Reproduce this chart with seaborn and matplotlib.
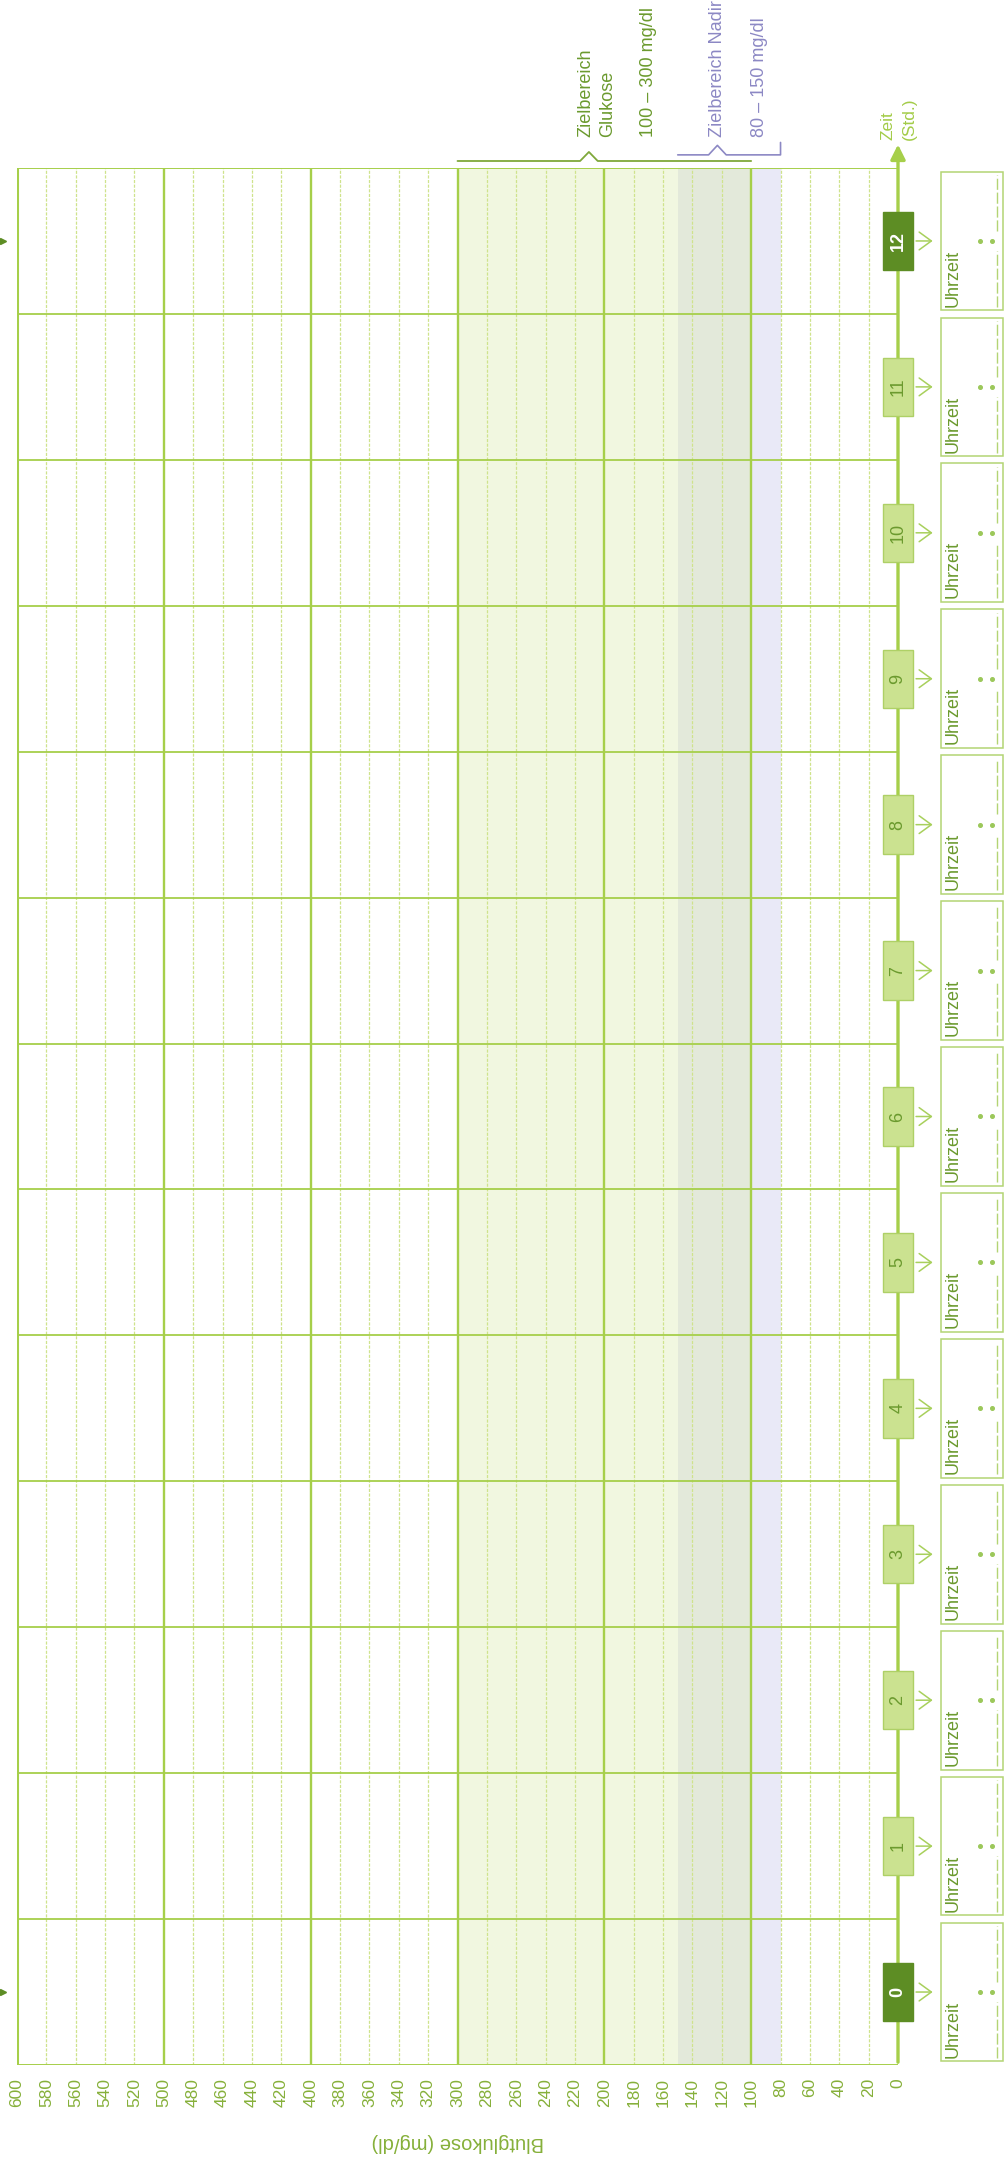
import seaborn as sns
import matplotlib.pyplot as plt
from matplotlib.patches import Rectangle

# Glucose axis (mg/dl), read from the form
glucose_ticks = list(range(0, 601, 20))
glucose_major = [100, 200, 300, 400, 500]
glucose_border = [600]

# Time axis (hours)
hours = [0, 1, 2, 3, 4, 5, 6, 7, 8, 9, 10, 11, 12]
hour_lines = [0.5, 1.5, 2.5, 3.5, 4.5, 5.5, 6.5, 7.5, 8.5, 9.5, 10.5, 11.5]
dark_hours = [0, 12]

# Target ranges
target_glucose = [100, 300]
target_nadir = [80, 150]

# Texts
glucose_title = ["Zielbereich", "Glukose"]
glucose_range_label = "100 – 300 mg/dl"
nadir_title = "Zielbereich Nadir"
nadir_range_label = "80 – 150 mg/dl"
time_label = ["Zeit", "(Std.)"]
xlabel = "Blutglukose (mg/dl)"
slot_label = "Uhrzeit"

# colours
LINE = "#a6cf4a"
THIN = "#cfe38c"
TICK = "#86b03a"
DARK = "#5d8d24"
LIGHT = "#cbe290"
TEXT = "#6b9a2e"
LAV = "#8c88c4"

sns.set_theme(style="white")
plt.rcParams["font.family"] = ["Liberation Sans", "DejaVu Sans"]

fig = plt.figure(figsize=(10.05, 21.63), dpi=100)
ax = fig.add_axes([17 / 1005, 1 - 2065 / 2163, 881 / 1005, (2065 - 168) / 2163])
ax.set_xlim(600, 0)
ax.set_ylim(-0.5, 12.5)
sns.despine(ax=ax, left=True, bottom=True)

# shaded target bands (nadir first, glucose range laid over it)
ax.axvspan(target_nadir[0], target_nadir[1], color="#c8c8eb", alpha=0.4, lw=0, zorder=0)
ax.axvspan(target_glucose[0], target_glucose[1], color="#d9eba9", alpha=0.36, lw=0, zorder=0)

# grid
minor = [v for v in glucose_ticks if v not in glucose_major and v not in (0, 600)]
ax.vlines(minor, -0.5, 12.5, color=THIN, lw=0.9, linestyles=(0, (2.5, 1.2)), zorder=1)
ax.vlines(glucose_major, -0.5, 12.5, color=LINE, lw=1.7, zorder=2)
ax.vlines(glucose_border, -0.5, 12.5, color=LINE, lw=2.2, zorder=2)
ax.hlines(hour_lines, 600, 0, color=LINE, lw=1.3, zorder=2)
ax.hlines([-0.5, 12.5], 600, 0, color=LINE, lw=1.4, zorder=2)

# time axis with arrow
ax.annotate("", xy=(0, 12.68), xytext=(0, -0.5),
            arrowprops=dict(arrowstyle="-|>", color=LINE, lw=2.4, mutation_scale=22),
            annotation_clip=False, zorder=3)
ax.text(6.8, 12.69, time_label[0], rotation=90, ha="center", va="bottom",
        color="#a3cc48", fontsize=12.5, clip_on=False)
ax.text(-7.5, 12.69, time_label[1], rotation=90, ha="center", va="bottom",
        color="#a3cc48", fontsize=12.5, clip_on=False)

# hour markers and time slots
for h in hours:
    dark = h in dark_hours
    ax.add_patch(Rectangle((10.2, h - 0.2), -20.4, 0.4, facecolor=DARK if dark else LIGHT,
                           edgecolor=DARK if dark else "#aed066", lw=1, clip_on=False, zorder=4))
    ax.text(0, h, str(h), rotation=90, ha="center", va="center", fontsize=13,
            fontweight="bold" if dark else "normal", color="white" if dark else TEXT,
            clip_on=False, zorder=5)
    ax.annotate("", xy=(-25.5, h), xytext=(-10.4, h),
                arrowprops=dict(arrowstyle="->,head_length=0.55,head_width=0.4",
                                color="#a8d05c", lw=1.1, mutation_scale=16),
                annotation_clip=False)
    ax.add_patch(Rectangle((-29.3, h - 0.475), -42.2, 0.95, facecolor="none",
                           edgecolor="#b3d474", lw=1.1, clip_on=False))
    ax.text(-37.5, h - 0.45, slot_label, rotation=90, ha="center", va="bottom",
            fontsize=13, color=TEXT, clip_on=False)
    ax.plot([-55.8, -64.0], [h, h], ls="none", marker="o", ms=2.6, color="#9cc85a", clip_on=False)
    ax.plot([-67.4, -67.4], [h - 0.45, h - 0.07], color="#b3d474", lw=1,
            ls=(0, (8, 2)), clip_on=False)
    ax.plot([-67.4, -67.4], [h + 0.07, h + 0.45], color="#b3d474", lw=1,
            ls=(0, (8, 2)), clip_on=False)

# small markers on the left edge
ax.plot([609.5, 609.5], [dark_hours[0], dark_hours[1]], ls="none", marker=">", ms=5,
        color=DARK, clip_on=False)

# brackets and range labels
g_lo, g_hi = target_glucose
ax.plot([g_hi, 216.5, 210.5, 204.5, g_lo], [12.548, 12.548, 12.61, 12.548, 12.548],
        color="#7fa83a", lw=1.3, clip_on=False)
n_lo, n_hi = target_nadir
ax.plot([n_hi, 129, 123, 117, n_lo, n_lo], [12.59, 12.59, 12.655, 12.59, 12.59, 12.675],
        color=LAV, lw=1.2, clip_on=False)

ax.text(212.5, 12.713, glucose_title[0], rotation=90, ha="center", va="bottom",
        fontsize=13, color=TEXT, clip_on=False)
ax.text(197.5, 12.713, glucose_title[1], rotation=90, ha="center", va="bottom",
        fontsize=13, color=TEXT, clip_on=False)
ax.text(170, 12.713, glucose_range_label, rotation=90, ha="center", va="bottom",
        fontsize=13, color=TEXT, clip_on=False)
ax.text(122.6, 12.713, nadir_title, rotation=90, ha="center", va="bottom",
        fontsize=13, color=LAV, clip_on=False)
ax.text(94, 12.713, nadir_range_label, rotation=90, ha="center", va="bottom",
        fontsize=13, color=LAV, clip_on=False)

# axis ticks and label
ax.set_xticks(glucose_ticks)
ax.set_xticklabels([str(v) for v in glucose_ticks])
ax.tick_params(axis="x", length=0, pad=9.5, labelrotation=90, labelcolor=TICK, labelsize=12.5)
ax.set_yticks([])
ax.grid(False)
ax.text(300, -1.028, xlabel, rotation=180, ha="center", va="center",
        fontsize=14.5, color=TICK, clip_on=False)

fig.savefig("out.png", dpi=100, facecolor="white")
